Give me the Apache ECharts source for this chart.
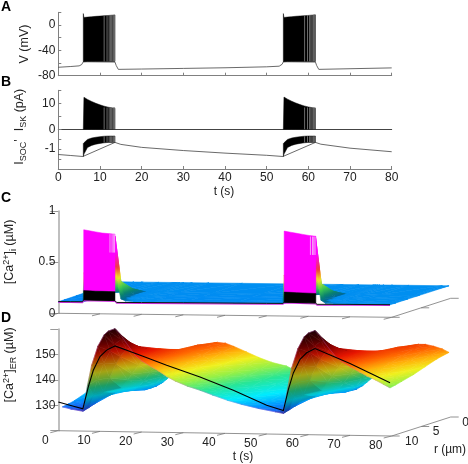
<!DOCTYPE html>
<html>
<head>
<meta charset="utf-8">
<script src="https://cdn.jsdelivr.net/npm/echarts@6/dist/echarts.min.js"></script>
<style>
html, body { margin: 0; padding: 0; background: #fff; }
#main { width: 468px; height: 464px; }
</style>
</head>
<body>
<div id="main"></div>
<script>
// panel A, membrane potential
var vTraceT = [0, 3, 5, 5.6, 6, 13.6, 13.9, 14.4, 20, 30, 40, 50, 53, 53.7, 54, 61.7, 62, 62.5, 70, 80];
var vTraceV = [-66.7, -65.5, -64.5, -62.5, -58, -58.5, -64, -70, -69.5, -68.5, -67.5, -66, -65, -62, -58, -58.5, -64, -70, -69, -67.7];
var burst1T = [6, 6.15, 7, 8, 9, 10, 11, 12, 13, 13.6];
var burst2T = [54, 54.15, 55, 56, 57, 58, 59, 60, 61, 61.7];
var vTop1 = [18, 11.8, 12.4, 13, 13.6, 14, 14.6, 15, 15.5, 15.9];
var vTop2 = [18, 11.8, 12.5, 13.1, 13.7, 14.2, 14.7, 15.1, 15.6, 16];
var vLow = [-58, -58, -57.5, -57.5, -57.5, -57.5, -57.5, -57.5, -57.5, -57.5];
var gaps1 = [11.0, 11.7, 12.2, 12.5, 12.8, 13.1, 13.3, 13.5];
var gaps2 = [59.1, 59.8, 60.3, 60.6, 60.9, 61.2, 61.4, 61.6];

// panel B, currents
var skTop1 = [0, 12.3, 11.5, 10.7, 10, 9.4, 8.9, 8.5, 8.2, 8.1];
var skTop2 = [0, 12.4, 11.6, 10.8, 10.1, 9.5, 9, 8.6, 8.3, 8.1];
var skLow = [0, 0, 0, 0, 0, 0, 0, 0, 0, 0];
var socTraceT = [0, 3, 5.9, 13.6, 15, 20, 30, 40, 50, 53.9, 61.7, 63, 70, 80];
var socTraceV = [-1.27, -1.32, -1.37, -0.66, -0.76, -0.91, -1.07, -1.2, -1.31, -1.37, -0.66, -0.75, -0.95, -1.13];
var socTop = [-0.72, -0.68, -0.51, -0.44, -0.4, -0.37, -0.35, -0.34, -0.34, -0.34];
var socLow = [-1.37, -1.25, -0.92, -0.81, -0.75, -0.71, -0.68, -0.66, -0.66, -0.66];

// panel C, cytosolic calcium over t and r
var caT = [0, 4, 5.9, 6.2, 10, 13.6, 14, 14.4, 15, 16, 18, 22, 30, 42, 53.9, 54.2, 58, 61.7, 62.1, 62.5, 63, 64, 66, 70, 78, 79.6];
var caR10 = [.113, .114, .115, .4, .4, .76, .5, .27, .15, .13, .122, .12, .118, .118, .122, .4, .4, .78, .52, .28, .16, .132, .125, .123, .122, .122];
var caR9 = [.113, .114, .115, .2, .2, .3, .16, .13, .122, .122, .122, .12, .118, .118, .12, .2, .2, .3, .16, .13, .122, .122, .122, .122, .122, .122];
var caR7 = [.115, .115, .116, .15, .16, .19, .124, .122, .122, .122, .122, .12, .119, .119, .12, .15, .16, .19, .124, .122, .122, .122, .122, .122, .122, .122];
var caR5 = [.118, .118, .118, .122, .122, .123, .122, .122, .122, .122, .122, .12, .12, .12, .12, .122, .122, .123, .122, .122, .122, .122, .122, .122, .122, .122];
var caR0 = [.122, .122, .122, .122, .122, .122, .122, .122, .122, .122, .122, .122, .122, .122, .122, .122, .122, .122, .122, .122, .122, .122, .122, .122, .122, .122];
var caRadii = [0, 5, 7, 9, 10];
var caWallTop1 = [.82, .81, .8, .79, .785, .78];
var caWallTop2 = [.83, .82, .81, .8, .79, .783];
var caWallLow = [.22, .22, .22, .22, .22, .22];
var caWall1T = [6.1, 7.5, 9, 10.5, 12, 13.6];
var caWall2T = [54.2, 55.7, 57.2, 58.7, 60.2, 61.8];
var caBandTop1 = [.225, .223, .221, .22, .219, .217];
var caBandTop2 = [.234, .232, .23, .228, .226, .224];
var caBandLow = [.135, .134, .133, .132, .132, .131];
var caLineT = [0, 3, 5.8, 6.1, 13.6, 14, 20, 30, 40, 50, 53.9, 54.2, 61.7, 62.1, 70, 79.6];
var caLine = [.115, .115, .116, .135, .131, .113, .115, .118, .12, .122, .123, .135, .131, .118, .121, .123];
var caPale1 = [12.4, 12.9, 13.2, 13.5];
var caPale2 = [60.5, 61, 61.3, 61.6];

// panel D, ER calcium over t and r
var erT = [1, 3, 5.9, 7, 8, 9.5, 11, 12, 13.6, 15, 16.5, 18.5, 20, 22, 24, 26, 28, 31, 34, 37, 40.6, 44, 48, 52, 54, 55, 56, 57.5, 59, 60, 61.6, 63, 64.5, 66.5, 68, 70, 72.3, 74, 76, 78, 79.6];
var erR10 = [129.4, 128.6, 127.8, 138, 146, 153.5, 158, 159.5, 160.5, 158, 154.5, 150, 148, 146, 144.2, 142, 140.3, 138.3, 136.8, 135, 133, 131.5, 130, 128.8, 128.2, 138, 146.2, 153.8, 158.5, 160, 161, 158.5, 155, 151, 149, 147, 145, 143.5, 142, 140.3, 138.9];
var erR9 = [129.8, 129.2, 128.5, 134, 139.5, 146, 151, 153.5, 155.5, 155, 153.5, 150.5, 148.7, 146.7, 144.8, 142.7, 140.9, 138.9, 137.3, 135.5, 133.6, 132.1, 130.7, 129.5, 128.9, 134, 139.7, 146.3, 151.5, 154, 156, 155.5, 154, 151.3, 149.5, 147.5, 145.5, 144, 142.5, 140.9, 139.4];
var erR8 = [130.3, 129.9, 129.3, 131, 134, 139.5, 145, 148, 151, 152, 152, 151, 149.5, 147.5, 145.5, 143.5, 141.5, 139.5, 137.8, 136, 134.3, 132.8, 131.5, 130.2, 129.6, 131.2, 134.2, 139.8, 145.3, 148.2, 151.5, 152.5, 152.5, 151.5, 150, 148, 146, 144.5, 143, 141.5, 140];
var erR6 = [132, 131.6, 131, 131.4, 132.2, 134.2, 137.2, 139.6, 143.2, 145.7, 148.2, 149.7, 149.5, 148.2, 146.5, 144.7, 143, 140.8, 138.8, 137, 135.3, 133.8, 132.5, 131.4, 131, 131.2, 132, 134.4, 137.6, 140, 143.7, 146.2, 148.7, 150.2, 150, 148.7, 147, 145.5, 144, 142.5, 141.2];
var erR4 = [132.9, 132.4, 131.9, 131.6, 131.4, 131.7, 133.4, 135.4, 138.9, 141.9, 144.4, 146.9, 147.8, 148, 147.2, 145.8, 144.2, 142, 139.9, 138.2, 136.4, 134.9, 133.4, 132.4, 131.9, 131.7, 131.5, 132, 133.8, 135.8, 139.4, 142.4, 145, 147.4, 148.4, 148.8, 148, 146.8, 145.4, 143.9, 142.8];
var erR2 = [133.1, 132.4, 131.5, 131, 130.6, 130.4, 131.2, 132.6, 135.6, 138.6, 141.6, 144.6, 146.9, 148.2, 148.1, 147.1, 145.6, 143.1, 140.9, 139.1, 137.3, 135.6, 134.1, 132.7, 131.9, 131.3, 130.8, 130.7, 131.6, 133, 136, 139, 142, 145, 147.2, 148.6, 149, 148.2, 147, 145.6, 144.4];
var erR0 = [132.6, 131.9, 130.4, 129.9, 129.7, 130.4, 131.9, 133.3, 135.4, 137.7, 139.9, 142.9, 144.9, 146.9, 147.9, 147.6, 146.4, 144.3, 142.2, 140.4, 139, 136.4, 134.4, 132.4, 131.2, 130.6, 129.9, 130.4, 131.9, 133.3, 135.4, 137.9, 140.4, 143.4, 145.4, 147.2, 148.4, 148.4, 147.7, 146.7, 145.4];
var erRadii = [0, 2, 4, 6, 8, 9, 10];
var erLineT = [0, 3, 5.9, 7.2, 8.4, 10, 11.6, 13.6, 20, 26, 34, 42, 50, 54, 55.2, 56.4, 58, 59.6, 61.6, 70, 79.6];
var erLine = [131.3, 130, 128.8, 137.4, 144, 149.4, 152, 153.7, 150, 146.4, 142, 137, 131.3, 129.3, 137.6, 144.2, 149.6, 152.2, 153.9, 148.3, 140.9];

var tTicks = [0, 10, 20, 30, 40, 50, 60, 70, 80];
var rTicks = [10, 5, 0];

// colour ramps, value then rgb
var caRamp = [[.1, 0, 120, 250], [.123, 0, 144, 240], [.135, 0, 105, 150], [.18, 10, 130, 110], [.25, 60, 200, 80], [.35, 240, 230, 40], [.45, 240, 60, 60], [.6, 255, 0, 255], [1, 255, 0, 255]];
var erRamp = [[126, 120, 60, 240], [128, 40, 70, 235], [130.5, 0, 150, 255], [133, 0, 235, 255], [136.5, 40, 230, 150], [139.5, 150, 240, 70], [142.5, 240, 240, 30], [145, 255, 180, 10], [147.5, 255, 100, 0], [150.5, 230, 20, 0], [154, 140, 0, 0], [158, 60, 0, 0], [162, 20, 0, 10]];

var rDx = 5.9, rDy = -1.9;
var axisGray = '#808080', textColor = '#222';
var labelFont = '12px "Liberation Sans", Arial, sans-serif';

function pt(api, t, r, z, slope) {
	var c = api.coord([t, z]);
	return [c[0] + (10 - r) * rDx, c[1] + t * slope + (10 - r) * rDy];
}
function zip(a, b) {
	return a.map(function (v, i) { return [v, b[i]]; });
}
function rampColor(ramp, v, f) {
	var i = 0;
	if (v <= ramp[0][0]) { i = 0; v = ramp[0][0]; }
	else {
		while (i < ramp.length - 2 && v > ramp[i + 1][0]) i++;
		if (v > ramp[i + 1][0]) v = ramp[i + 1][0];
	}
	var a = ramp[i], b = ramp[i + 1], k = (v - a[0]) / (b[0] - a[0]);
	return 'rgb(' + Math.round((a[1] + (b[1] - a[1]) * k) * f) + ',' + Math.round((a[2] + (b[2] - a[2]) * k) * f) + ',' + Math.round((a[3] + (b[3] - a[3]) * k) * f) + ')';
}

function traceSeries(grid, ts, vs, color, width, z) {
	return { type: 'line', xAxisIndex: grid, yAxisIndex: grid, data: zip(ts, vs), showSymbol: false, silent: true, z: z || 3,
		lineStyle: { color: color, width: width } };
}
function bandSeries(grid, ts, tops, lows, color, slope, z) {
	return { type: 'custom', xAxisIndex: grid, yAxisIndex: grid, data: [[0]], clip: false, silent: true, z: z || 4,
		renderItem: function (params, api) {
			var pts = [], i;
			for (i = 0; i < ts.length; i++) pts.push(pt(api, ts[i], 10, tops[i], slope));
			for (i = ts.length - 1; i >= 0; i--) pts.push(pt(api, ts[i], 10, lows[i], slope));
			return { type: 'polygon', shape: { points: pts }, style: { fill: color, stroke: color, lineWidth: .5 } };
		} };
}
function gapSeries(grid, ts, top, low, color, slope) {
	return { type: 'custom', xAxisIndex: grid, yAxisIndex: grid, data: [[0]], clip: false, silent: true, z: 5,
		renderItem: function (params, api) {
			return { type: 'group', children: ts.map(function (t) {
				var a = pt(api, t, 10, top, slope || 0), b = pt(api, t, 10, low, slope || 0);
				return { type: 'line', shape: { x1: a[0], y1: a[1], x2: b[0], y2: b[1] }, style: { stroke: color || '#777', lineWidth: .9 } };
			}) };
		} };
}
function surfaceSeries(grid, ts, radii, slices, ramp, shadeK, slope) {
	var cells = [];
	for (var j = 0; j < radii.length - 1; j++)
		for (var i = 0; i < ts.length - 1; i++) cells.push([i, j]);
	// lighting per vertex so neighbouring cells join up
	function vertexShade(i, j) {
		var a = Math.max(0, i - 1), b = Math.min(ts.length - 1, i + 1);
		var s = (slices[j][b] - slices[j][a]) / (ts[b] - ts[a]);
		return 1 - Math.min(.32, Math.max(0, s) * shadeK);
	}
	// one triangle gets an exact linear gradient through its three corners
	function tri(p, v, f) {
		var ax = p[1][0] - p[0][0], ay = p[1][1] - p[0][1], bx = p[2][0] - p[0][0], by = p[2][1] - p[0][1];
		var da = v[1] - v[0], db = v[2] - v[0];
		var det = ax * by - ay * bx;
		var lo = Math.min(v[0], v[1], v[2]), hi = Math.max(v[0], v[1], v[2]);
		var fLo = f[v.indexOf(lo)], fHi = f[v.indexOf(hi)];
		var fill = rampColor(ramp, (lo + hi) / 2, (fLo + fHi) / 2);
		if (Math.abs(det) > 1e-3 && hi > lo) {
			var gx = (da * by - db * ay) / det, gy = (ax * db - bx * da) / det, g2 = gx * gx + gy * gy;
			if (g2 > 1e-9) {
				var stops = [];
				for (var k = 0; k <= 24; k++) stops.push({ offset: k / 24, color: rampColor(ramp, lo + (hi - lo) * k / 24, fLo + (fHi - fLo) * k / 24) });
				fill = new echarts.graphic.LinearGradient(
					p[0][0] + gx * (lo - v[0]) / g2, p[0][1] + gy * (lo - v[0]) / g2,
					p[0][0] + gx * (hi - v[0]) / g2, p[0][1] + gy * (hi - v[0]) / g2, stops, true);
			}
		}
		return { type: 'polygon', shape: { points: p }, style: { fill: fill, stroke: fill, lineWidth: .6 } };
	}
	return { type: 'custom', xAxisIndex: grid, yAxisIndex: grid, data: cells, clip: false, silent: true, z: 2,
		renderItem: function (params, api) {
			var i = api.value(0), j = api.value(1);
			var v = [slices[j][i], slices[j][i + 1], slices[j + 1][i + 1], slices[j + 1][i]];
			var p = [pt(api, ts[i], radii[j], v[0], slope), pt(api, ts[i + 1], radii[j], v[1], slope),
				pt(api, ts[i + 1], radii[j + 1], v[2], slope), pt(api, ts[i], radii[j + 1], v[3], slope)];
			var f = [vertexShade(i, j), vertexShade(i + 1, j), vertexShade(i + 1, j + 1), vertexShade(i, j + 1)];
			return { type: 'group', children: [
				tri([p[0], p[1], p[3]], [v[0], v[1], v[3]], [f[0], f[1], f[3]]),
				tri([p[1], p[2], p[3]], [v[1], v[2], v[3]], [f[1], f[2], f[3]])
			] };
		} };
}
function edgeSeries(grid, ts, vals, color, width, slope, z, opacity) {
	return { type: 'custom', xAxisIndex: grid, yAxisIndex: grid, data: [[0]], clip: false, silent: true, z: z,
		renderItem: function (params, api) {
			return { type: 'polyline', shape: { points: ts.map(function (t, i) { return pt(api, t, 10, vals[i], slope); }) },
				style: { stroke: color, fill: null, lineWidth: width, opacity: opacity || 1 } };
		} };
}
// slanted floor axes of the 3d panels
function floorSeries(grid, base, slope, labelled) {
	return { type: 'custom', xAxisIndex: grid, yAxisIndex: grid, data: [[0]], clip: false, silent: true, z: 1,
		renderItem: function (params, api) {
			var kids = [];
			function seg(a, b) {
				kids.push({ type: 'line', shape: { x1: a[0], y1: a[1], x2: b[0], y2: b[1] }, style: { stroke: '#777', lineWidth: .8 } });
			}
			function txt(s, x, y) {
				kids.push({ type: 'text', x: x, y: y, style: { text: s, fill: textColor, font: labelFont, textAlign: 'center', textVerticalAlign: 'middle' } });
			}
			seg(pt(api, 0, 10, base, slope), pt(api, 80, 10, base, slope));
			seg(pt(api, 80, 10, base, slope), pt(api, 80, 0, base, slope));
			tTicks.forEach(function (t) {
				var a = pt(api, t, 10, base, slope);
				seg(a, [a[0] - 8, a[1] + 2]);
				if (labelled) txt(String(t), a[0] - (t === 0 ? 13 : 16), a[1] + 9.5);
			});
			rTicks.forEach(function (r) {
				var a = pt(api, 80, r, base, slope);
				seg(a, [a[0] + 8, a[1]]);
				if (labelled) txt(String(r), a[0] + (r === 10 ? 20 : 15), a[1] + 5.5);
			});
			return { type: 'group', children: kids };
		} };
}

function xAxisFor(grid, show, labels, line) {
	return { type: 'value', gridIndex: grid, min: 0, max: 80, interval: 10, show: show,
		axisLine: { onZero: false, lineStyle: { color: line || axisGray, width: 1 } },
		axisTick: { show: labels || grid === 0, inside: true, length: 3, lineStyle: { color: axisGray } },
		axisLabel: { show: !!labels, color: textColor, fontSize: 12, fontFamily: 'Liberation Sans', margin: 3 },
		splitLine: { show: false } };
}
function yAxisFor(grid, min, max, step, shown, outer) {
	return { type: 'value', gridIndex: grid, min: min, max: max, interval: step,
		axisLine: { onZero: false, show: true, lineStyle: { color: outer ? '#aaa' : axisGray, width: outer ? 1.5 : 1 } },
		axisTick: { show: true, inside: !outer, length: outer ? 8 : 3, lineStyle: { color: outer ? '#999' : axisGray } },
		axisLabel: { color: textColor, fontSize: 12, fontFamily: 'Liberation Sans', margin: 3, showMinLabel: true, showMaxLabel: true,
			formatter: function (v) { return shown.indexOf(v) >= 0 ? String(v) : ''; } },
		splitLine: { show: false } };
}
var rich = {
	m: { fontSize: 12.5, fontFamily: 'Liberation Sans', fill: textColor, color: textColor, lineHeight: 16 },
	s: { fontSize: 9, fontFamily: 'Liberation Sans', fill: textColor, color: textColor, lineHeight: 16, verticalAlign: 'bottom' },
	u: { fontSize: 9, fontFamily: 'Liberation Sans', fill: textColor, color: textColor, lineHeight: 16, verticalAlign: 'top' }
};
function vText(s, x, y) {
	return { type: 'text', x: x, y: y, rotation: Math.PI / 2, silent: true,
		style: { text: s, rich: rich, fill: textColor, font: '12.5px "Liberation Sans"', textAlign: 'center', textVerticalAlign: 'middle' } };
}
function hText(s, x, y, font) {
	return { type: 'text', x: x, y: y, silent: true,
		style: { text: s, fill: font ? '#000' : textColor, font: font || labelFont, textAlign: 'center', textVerticalAlign: 'middle' } };
}
var letterFont = 'bold 14px "Liberation Sans"';

var chart = echarts.init(document.getElementById('main'), null, { renderer: 'canvas' });
chart.setOption({
	animation: false,
	grid: [
		{ left: 58.3, width: 333.4, top: 12.3, height: 63.4 },
		{ left: 58.3, width: 333.4, top: 90.3, height: 39 },
		{ left: 58.3, width: 333.4, top: 129.3, height: 39.7 },
		{ left: 58.3, width: 333.4, top: 211, height: 102.3 },
		{ left: 58.3, width: 333.4, top: 329, height: 101.7 }
	],
	xAxis: [xAxisFor(0, true), xAxisFor(1, true, false, '#444'), xAxisFor(2, true, true), xAxisFor(3, false), xAxisFor(4, false)],
	yAxis: [
		yAxisFor(0, -80, 20, 20, [0, -40, -80]),
		yAxisFor(1, 0, 15, 5, [10, 0]),
		yAxisFor(2, -2, 0, .5, [-1]),
		yAxisFor(3, 0, 1, .5, [0, .5, 1], true),
		yAxisFor(4, 120, 160, 10, [130, 140, 150], true)
	],
	graphic: [
		hText('A', 6, 7, letterFont), hText('B', 6, 82, letterFont), hText('C', 6, 198, letterFont), hText('D', 6, 318, letterFont),
		vText('V (mV)', 25, 44),
		vText('{m|I}{s|SK}{m| (pA)}', 20, 110),
		vText("{m|I}{s|SOC}{m|'}", 20, 152),
		vText('{m|[Ca}{u|2+}{m|]}{s|i}{m| (µM)}', 10, 252),
		vText('{m|[Ca}{u|2+}{m|]}{s|ER}{m| (µM)}', 10, 365),
		hText('t (s)', 224, 192),
		hText('t (s)', 243, 457),
		hText('r (µm)', 450, 450)
	],
	series: [
		traceSeries(0, vTraceT, vTraceV, '#444', .8),
		bandSeries(0, burst1T, vTop1, vLow, '#000', 0),
		bandSeries(0, burst2T, vTop2, vLow, '#000', 0),
		gapSeries(0, gaps1, 15.5, -57.5),
		gapSeries(0, gaps2, 15.7, -57.5),

		bandSeries(1, burst1T, skTop1, skLow, '#000', 0),
		bandSeries(1, burst2T, skTop2, skLow, '#000', 0),
		gapSeries(1, gaps1, 8.4, 0),
		gapSeries(1, gaps2, 8.4, 0),

		traceSeries(2, socTraceT, socTraceV, '#444', .8),
		bandSeries(2, burst1T, socTop, socLow, '#000', 0),
		bandSeries(2, burst2T, socTop, socLow, '#000', 0),
		gapSeries(2, gaps1, -.35, -.66),
		gapSeries(2, gaps2, -.35, -.66),

		floorSeries(3, 0, .05, false),
		surfaceSeries(3, caT, caRadii, [caR0, caR5, caR7, caR9, caR10], caRamp, 0, .05),
		bandSeries(3, caWall1T, caWallTop1, caWallLow, '#ff00ff', .05),
		bandSeries(3, caWall2T, caWallTop2, caWallLow, '#ff00ff', .05),
		gapSeries(3, caPale1, .78, .6, '#f9a8f9', .05),
		gapSeries(3, caPale2, .78, .6, '#f9a8f9', .05),
		edgeSeries(3, caLineT, caLine.map(function (v) { return v - .008; }), '#d030e0', 1.2, .05, 5),
		edgeSeries(3, caLineT, caLine, '#111', 1, .05, 6),
		bandSeries(3, caWall1T, caBandTop1, caBandLow, '#000', .05, 7),
		bandSeries(3, caWall2T, caBandTop2, caBandLow, '#000', .05, 7),

		floorSeries(4, 120, .0663, true),
		surfaceSeries(4, erT, erRadii, [erR0, erR2, erR4, erR6, erR8, erR9, erR10], erRamp, .1, .0663),
		edgeSeries(4, erT, erR10, '#d060d0', .6, .0663, 5, .5),
		edgeSeries(4, erLineT, erLine, '#000', 1.1, .0663, 6)
	]
});
</script>
</body>
</html>
